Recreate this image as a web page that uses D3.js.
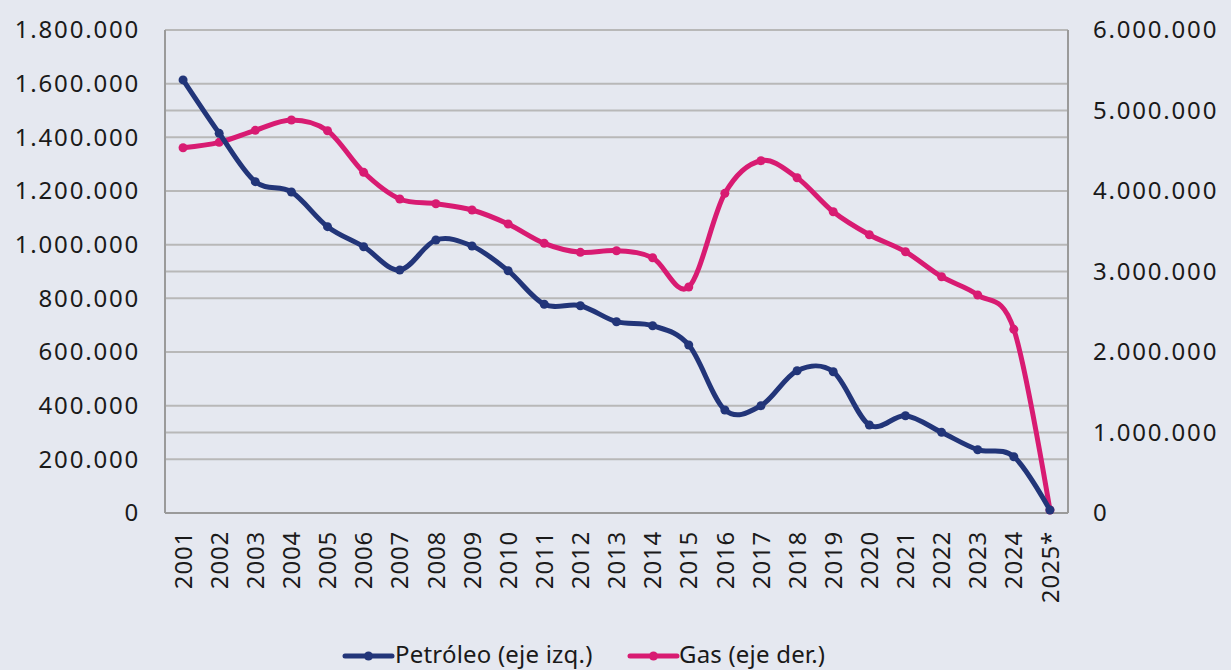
<!DOCTYPE html>
<html><head><meta charset="utf-8">
<script src="https://cdn.jsdelivr.net/npm/d3@7"></script>
<style>
html,body{margin:0;padding:0;background:#e5e8f0;}
svg{display:block;}
text{font-family:"Noto Sans",sans-serif;fill:#1a1a1a;}
</style></head><body>
<svg id="chart" width="1231" height="670"></svg>
<script>
const years = ["2001","2002","2003","2004","2005","2006","2007","2008","2009","2010","2011","2012","2013","2014","2015","2016","2017","2018","2019","2020","2021","2022","2023","2024","2025*"];
const petroleo = [1614000,1415000,1234700,1196300,1067000,992400,905600,1017400,995000,903000,777800,772500,712900,698000,626100,383900,399900,530300,526600,327900,362600,300700,235900,209800,11200];
const gas = [4537800,4604800,4753900,4881800,4749000,4232200,3900500,3842100,3763900,3590000,3350200,3238400,3258300,3171300,2807400,3971300,4376300,4165100,3742800,3457000,3245900,2935300,2708000,2281900,37000];
const leftTicks = [0,200000,400000,600000,800000,1000000,1200000,1400000,1600000,1800000];
const rightTicks = [0,1000000,2000000,3000000,4000000,5000000,6000000];
const seriesNames = ["Petróleo (eje izq.)","Gas (eje der.)"];
const colors = ["#223579","#d81b72"];

const svg = d3.select("#chart");
const L = 165, R = 1068, T = 30, B = 513;
const x = d3.scalePoint().domain(years).range([L, R]).padding(0.5);
const yL = d3.scaleLinear().domain([0, 1800000]).range([B, T]);
const yR = d3.scaleLinear().domain([0, 6000000]).range([B, T]);
const fmt = v => d3.format(",")(v).replace(/,/g, ".");

// gridlines (union of both axes)
const gridYs = Array.from(new Set(leftTicks.map(yL).concat(rightTicks.map(yR)).map(v => Math.round(v*10)/10)));
svg.append("g").selectAll("line").data(gridYs).join("line")
  .attr("x1", L).attr("x2", R).attr("y1", d => d).attr("y2", d => d)
  .attr("stroke", "#b8b8b8").attr("stroke-width", 2);

// axis frame lines
svg.append("line").attr("x1", L).attr("x2", L).attr("y1", T).attr("y2", B).attr("stroke", "#9a9a9a").attr("stroke-width", 2);
svg.append("line").attr("x1", R).attr("x2", R).attr("y1", T).attr("y2", B).attr("stroke", "#9a9a9a").attr("stroke-width", 2);
svg.append("line").attr("x1", L).attr("x2", R).attr("y1", B).attr("y2", B).attr("stroke", "#9a9a9a").attr("stroke-width", 2);

// axis labels
const ax = svg.append("g").attr("transform", `translate(${L},0)`).call(d3.axisLeft(yL).tickValues(leftTicks).tickFormat(fmt).tickSize(0).tickPadding(25));
ax.select(".domain").remove();
ax.selectAll("text").attr("font-size", 24).attr("letter-spacing", 1.8).attr("font-family", "'Noto Sans', sans-serif").attr("fill", "#1a1a1a");
const axR = svg.append("g").attr("transform", `translate(${R},0)`).call(d3.axisRight(yR).tickValues(rightTicks).tickFormat(fmt).tickSize(0).tickPadding(25));
axR.select(".domain").remove();
axR.selectAll("text").attr("font-size", 24).attr("letter-spacing", 1.8).attr("font-family", "'Noto Sans', sans-serif").attr("fill", "#1a1a1a");

// x labels
svg.append("g").selectAll("text").data(years).join("text")
  .attr("transform", d => `translate(${x(d)},${531}) rotate(-90)`)
  .attr("text-anchor", "end").attr("dy", "0.36em").attr("font-size", 24).attr("letter-spacing", 0.8)
  .text(d => d);

// lines
const curve = d3.curveCatmullRom.alpha(0);
const series = [
  {vals: petroleo, y: yL, color: colors[0]},
  {vals: gas, y: yR, color: colors[1]}
];
[series[1], series[0]].forEach(s => {
  const line = d3.line().x((d,i) => x(years[i])).y(d => s.y(d)).curve(curve);
  svg.append("path").datum(s.vals).attr("d", line).attr("fill", "none")
    .attr("stroke", s.color).attr("stroke-width", 5).attr("stroke-linejoin", "round");
  svg.append("g").selectAll("circle").data(s.vals).join("circle")
    .attr("cx", (d,i) => x(years[i])).attr("cy", d => s.y(d)).attr("r", 4.5).attr("fill", s.color);
});

// legend
const leg = [{x0: 345, tx: 395}, {x0: 630, tx: 679}];
leg.forEach((l, i) => {
  const g = svg.append("g");
  g.append("line").attr("x1", l.x0).attr("x2", l.x0 + 47).attr("y1", 656).attr("y2", 656)
    .attr("stroke", colors[i]).attr("stroke-width", 5).attr("stroke-linecap", "round");
  g.append("circle").attr("cx", l.x0 + 23.5).attr("cy", 656).attr("r", 4.5).attr("fill", colors[i]);
  g.append("text").attr("x", l.tx).attr("y", 654).attr("dy", "0.36em").attr("font-size", 24).attr("letter-spacing", 0.2).text(seriesNames[i]);
});
</script>
</body></html>
